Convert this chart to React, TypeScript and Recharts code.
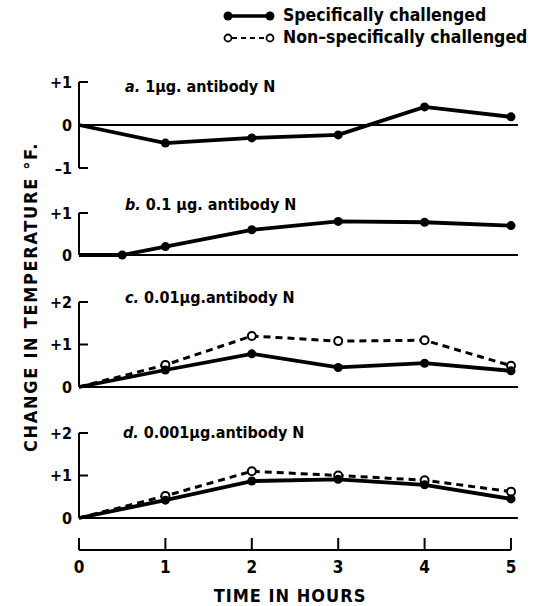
import React from 'react';
import { LineChart, Line, XAxis, YAxis, ReferenceLine } from 'recharts';

// ---- data ----
const hours = [0, 1, 2, 3, 4, 5];
const hoursB = [0, 0.5, 1, 2, 3, 4, 5];
const xTicks = [0, 1, 2, 3, 4, 5];

const specA = [0, -0.42, -0.3, -0.23, 0.42, 0.19];
const specB = [0, 0, 0.2, 0.6, 0.8, 0.78, 0.7];
const specC = [0, 0.4, 0.78, 0.46, 0.56, 0.38];
const nonC = [0, 0.52, 1.2, 1.08, 1.1, 0.5];
const specD = [0, 0.42, 0.87, 0.91, 0.78, 0.45];
const nonD = [0, 0.52, 1.1, 1.0, 0.89, 0.62];

const ticksA = [-1, 0, 1];
const ticksB = [0, 1];
const ticksCD = [0, 1, 2];

const legendLabels = ['Specifically challenged', 'Non\u2013specifically challenged'];
const yLabel = 'CHANGE IN TEMPERATURE \u00b0F.';
const xLabel = 'TIME IN HOURS';

const titlesLetter = ['a.', 'b.', 'c.', 'd.'];
const titlesText = ['1\u03bcg. antibody N', '0.1 \u03bcg. antibody N', '0.01\u03bcg.antibody N', '0.001\u03bcg.antibody N'];

const FONT = "'DejaVu Sans Condensed','DejaVu Sans',sans-serif";

const build = (xs: number[], s: number[], n?: number[]) =>
  xs.map((h, i) => ({ h, s: s[i], n: n ? n[i] : undefined }));

const dataA = build(hours, specA);
const dataB = build(hoursB, specB);
const dataC = build(hours, specC, nonC);
const dataD = build(hours, specD, nonD);

const tickLabel = (v: number) => (v > 0 ? `+${v}` : v < 0 ? `\u2013${Math.abs(v)}` : '0');

const YTick = (props: any) => {
  const { x, y, payload } = props;
  const ax = x + 6;
  return (
    <g>
      <line x1={ax} x2={ax + 9} y1={y} y2={y} stroke="#000" strokeWidth={2} />
      <text x={x - 1} y={y} dy="0.36em" textAnchor="end" fontFamily={FONT} fontWeight="bold" fontSize={16} fill="#000">
        {tickLabel(payload.value)}
      </text>
    </g>
  );
};

const XTick = (props: any) => {
  const { x, y, payload } = props;
  return (
    <g>
      <line x1={x} x2={x} y1={y} y2={y - 12} stroke="#000" strokeWidth={2} />
      <text x={x} y={y + 17} dy="0.36em" textAnchor="middle" fontFamily={FONT} fontWeight="bold" fontSize={17} fill="#000">
        {payload.value}
      </text>
    </g>
  );
};

const FilledDot = (p: any) => {
  if (p.payload.h === 0) return <g key={p.index} />;
  return <circle key={p.index} cx={p.cx} cy={p.cy} r={4.5} fill="#000" />;
};
const OpenDot = (p: any) => {
  if (p.payload.h === 0) return <g key={p.index} />;
  return <circle key={p.index} cx={p.cx} cy={p.cy} r={4} fill="#fff" stroke="#000" strokeWidth={2} />;
};

type PanelProps = {
  top: number;
  height: number;
  mt: number;
  mb: number;
  data: any[];
  domain: [number, number];
  ticks: number[];
  nonspec?: boolean;
};

function Panel({ top, height, mt, mb, data, domain, ticks, nonspec }: PanelProps) {
  return (
    <div style={{ position: 'absolute', left: 0, top }}>
      <LineChart width={539} height={height} data={data} margin={{ top: mt, right: 28, bottom: mb, left: 39 }}>
        <XAxis dataKey="h" type="number" domain={[0, 5]} hide />
        <YAxis
          domain={domain}
          ticks={ticks}
          width={40}
          tickSize={0}
          tickMargin={6}
          tick={<YTick />}
          tickLine={false}
          interval={0}
          axisLine={{ stroke: '#000', strokeWidth: 2 }}
        />
        <ReferenceLine
          segment={[{ x: 0, y: 0 }, { x: 5.08, y: 0 }]}
          stroke="#000"
          strokeWidth={2}
          ifOverflow="visible"
        />
        {nonspec && (
          <Line
            dataKey="n"
            stroke="#000"
            strokeWidth={3}
            strokeDasharray="7 5"
            dot={<OpenDot />}
            isAnimationActive={false}
          />
        )}
        <Line dataKey="s" stroke="#000" strokeWidth={3.8} dot={<FilledDot />} isAnimationActive={false} />
      </LineChart>
    </div>
  );
}

const textStyle: React.CSSProperties = {
  position: 'absolute',
  fontFamily: FONT,
  fontWeight: 'bold',
  color: '#000',
  whiteSpace: 'nowrap',
  lineHeight: 1,
};

function Title({ i, left, top }: { i: number; left: number; top: number }) {
  return (
    <div style={{ ...textStyle, left, top, fontSize: 16 }}>
      <i>{titlesLetter[i]}</i> {titlesText[i]}
    </div>
  );
}

export default function App() {
  return (
    <div style={{ position: 'absolute', left: 0, top: 0, width: 539, height: 606, background: '#fff', overflow: 'hidden' }}>
      {/* legend */}
      <svg style={{ position: 'absolute', left: 0, top: 0 }} width={539} height={50}>
        <line x1={228} x2={270} y1={16} y2={16} stroke="#000" strokeWidth={3.5} />
        <circle cx={228} cy={16} r={4.5} fill="#000" />
        <circle cx={270} cy={16} r={4.5} fill="#000" />
        <line x1={232} x2={266} y1={38} y2={38} stroke="#000" strokeWidth={2} strokeDasharray="5 4" />
        <circle cx={228} cy={38} r={3.5} fill="#fff" stroke="#000" strokeWidth={1.8} />
        <circle cx={270} cy={38} r={3.5} fill="#fff" stroke="#000" strokeWidth={1.8} />
      </svg>
      <div style={{ ...textStyle, left: 283, top: 7, fontSize: 17.5 }}>{legendLabels[0]}</div>
      <div style={{ ...textStyle, left: 283, top: 29, fontSize: 17.5 }}>{legendLabels[1]}</div>

      <Panel top={60} height={120} mt={22} mb={12} data={dataA} domain={[-1, 1]} ticks={ticksA} />
      <Panel top={190} height={77} mt={23} mb={12} data={dataB} domain={[0, 1]} ticks={ticksB} />
      <Panel top={280} height={120} mt={22} mb={13} data={dataC} domain={[0, 2]} ticks={ticksCD} nonspec />
      <Panel top={410} height={120} mt={23} mb={12} data={dataD} domain={[0, 2]} ticks={ticksCD} nonspec />

      <Title i={0} left={125} top={79} />
      <Title i={1} left={125} top={197} />
      <Title i={2} left={125} top={290} />
      <Title i={3} left={123} top={425} />

      {/* bottom time axis */}
      <div style={{ position: 'absolute', left: 0, top: 520 }}>
        <LineChart width={539} height={86} data={dataD} margin={{ top: 0, right: 28, bottom: 0, left: 79 }}>
          <XAxis
            dataKey="h"
            type="number"
            domain={[0, 5]}
            ticks={xTicks}
            interval={0}
            height={56}
            tickSize={0}
            tickMargin={0}
            tick={<XTick />}
            tickLine={false}
            axisLine={{ stroke: '#000', strokeWidth: 2 }}
          />
          <YAxis hide domain={[0, 1]} />
        </LineChart>
      </div>
      <div style={{ ...textStyle, left: 140, width: 300, textAlign: 'center', top: 587, fontSize: 18, letterSpacing: 1 }}>
        {xLabel}
      </div>

      {/* y label */}
      <div
        style={{
          ...textStyle,
          left: 31 - 170,
          top: 297 - 9,
          width: 340,
          textAlign: 'center',
          fontSize: 18,
          letterSpacing: 1.7,
          transform: 'rotate(-90deg)',
        }}
      >
        {yLabel}
      </div>
    </div>
  );
}
